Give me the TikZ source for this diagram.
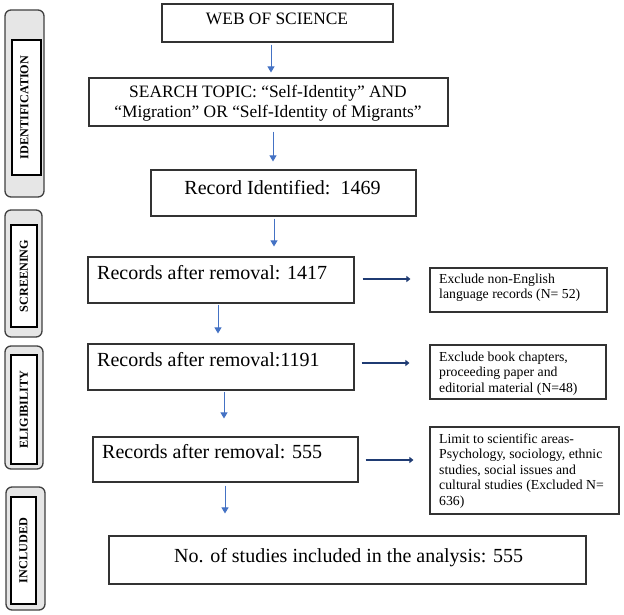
\documentclass[tikz,border=0pt]{standalone}
\usepackage{fontspec}
\setmainfont{Liberation Serif}
\usetikzlibrary{arrows.meta}
\definecolor{lblue}{HTML}{4472C4}
\definecolor{navy}{HTML}{1F3B73}
\definecolor{boxline}{HTML}{333333}
\definecolor{sidefill}{HTML}{E6E6E6}
\definecolor{sideline}{HTML}{404040}
\begin{document}
\begin{tikzpicture}[x=1pt,y=-1pt,
  box/.style={draw=boxline, line width=1.1pt, rectangle, inner sep=0pt, fill=white},
  sideout/.style={draw=sideline, line width=1.3pt, fill=sidefill, rounded corners=6pt, rectangle, inner sep=0pt},
  sidein/.style={draw=black, line width=1.1pt, fill=white, rectangle, inner sep=0pt},
  sidetext/.style={rotate=90, inner sep=0pt, font=\fontsize{12.2}{14}\selectfont\bfseries},
  bigtext/.style={inner sep=0pt, font=\fontsize{20}{23}\selectfont},
  midtext/.style={inner sep=0pt, font=\fontsize{17.4}{20}\selectfont},
  smalltext/.style={inner sep=0pt, font=\fontsize{13.75}{15.5}\selectfont},
  varrow/.style={draw=lblue, line width=1pt, -{Triangle[length=6pt,width=7pt]}},
  harrow/.style={draw=navy, line width=2.5pt, -{Triangle[length=4pt,width=6pt]}}]
\useasboundingbox (0,0) rectangle (624,615);

% side labels
\node[sideout, minimum width=39pt, minimum height=187pt] (ido) at (24.5,103.5) {};
\node[sidein, minimum width=29pt, minimum height=135pt] (idi) at (26.5,107.5) {};
\node[sidetext] (idt) at (24.5,107.5) {IDENTIFICATION};

\node[sideout, minimum width=37pt, minimum height=127pt] (sco) at (23.5,273.5) {};
\node[sidein, minimum width=26pt, minimum height=102pt] (sci) at (24,276) {};
\node[sidetext] (sct) at (24,276) {SCREENING};

\node[sideout, minimum width=38pt, minimum height=123pt] (elo) at (24,407.5) {};
\node[sidein, minimum width=26pt, minimum height=109pt] (eli) at (24,409.5) {};
\node[sidetext] (elt) at (24,409.5) {ELIGIBILITY};

\node[sideout, minimum width=39pt, minimum height=123pt] (ino) at (25.5,548.5) {};
\node[sidein, minimum width=25pt, minimum height=107pt] (ini) at (23.5,550.5) {};
\node[sidetext] (int) at (23.5,550.5) {INCLUDED};

% main boxes
\node[box, minimum width=231pt, minimum height=38pt] (web) at (277.5,23) {};
\node[box, minimum width=359pt, minimum height=48pt] (search) at (268.5,102) {};
\node[box, minimum width=265pt, minimum height=46pt] (rec) at (283.5,193) {};
\node[box, minimum width=266pt, minimum height=46pt] (r1) at (221,280) {};
\node[box, minimum width=266pt, minimum height=46pt] (r2) at (221,367) {};
\node[box, minimum width=265pt, minimum height=45pt] (r3) at (225.5,459.5) {};
\node[box, minimum width=477pt, minimum height=48pt] (fin) at (347.5,560) {};
\node[box, minimum width=177pt, minimum height=44pt] (e1) at (518.5,290) {};
\node[box, minimum width=176pt, minimum height=54pt] (e2) at (518,372) {};
\node[box, minimum width=189pt, minimum height=87pt] (e3) at (524.5,470.5) {};

% texts
\node[midtext, anchor=base] (webt) at (277,25) {WEB OF SCIENCE};
\node[midtext, anchor=base] (searcht) at (268,98) {\begin{tabular}[t]{@{}c@{}}SEARCH TOPIC: “Self-Identity” AND\\“Migration” OR “Self-Identity of Migrants”\end{tabular}};
\node[bigtext, anchor=base] (rect) at (282.5,194) {Record Identified:\ \ 1469};
\node[bigtext, anchor=base west] (r1t) at (97,279) {Records after removal: 1417};
\node[bigtext, anchor=base west] (r2t) at (97,366) {Records after removal:1191};
\node[bigtext, anchor=base west] (r3t) at (102,458) {Records after removal: 555};
\node[bigtext, anchor=base west] (fint) at (174,562) {No. of studies included in the analysis: 555};
\node[smalltext, anchor=base west] (e1t) at (439,283) {\begin{tabular}[t]{@{}l@{}}Exclude non-English\\language records (N= 52)\end{tabular}};
\node[smalltext, anchor=base west] (e2t) at (439,361) {\begin{tabular}[t]{@{}l@{}}Exclude book chapters,\\proceeding paper and\\editorial material (N=48)\end{tabular}};
\node[smalltext, anchor=base west] (e3t) at (439,443) {\begin{tabular}[t]{@{}l@{}}Limit to scientific areas-\\Psychology, sociology, ethnic\\studies, social issues and\\cultural studies (Excluded N=\\636)\end{tabular}};

% vertical arrows
\draw[varrow, shorten <=2pt, shorten >=5pt] ([xshift=-6.5pt]web.south) -- ([xshift=2.5pt]search.north);
\draw[varrow, shorten <=5pt, shorten >=8pt] ([xshift=4.5pt]search.south) -- ([xshift=-10.5pt]rec.north);
\draw[varrow, shorten <=2pt, shorten >=10pt] ([xshift=-9.5pt]rec.south) -- ([xshift=53pt]r1.north);
\draw[varrow, shorten <=1pt, shorten >=10pt] ([xshift=-3pt]r1.south) -- ([xshift=-3pt]r2.north);
\draw[varrow, shorten <=1pt, shorten >=18pt] ([xshift=3pt]r2.south) -- ([xshift=-1.5pt]r3.north);
\draw[varrow, shorten <=3pt, shorten >=22pt] ([xshift=-0.5pt]r3.south) -- ([xshift=-122.5pt]fin.north);

% horizontal arrows
\draw[harrow, shorten <=8pt, shorten >=19pt] ([yshift=1pt]r1.east) -- ([yshift=11pt]e1.west);
\draw[harrow, shorten <=7pt, shorten >=20pt] ([yshift=4pt]r2.east) -- ([yshift=9pt]e2.west);
\draw[harrow, shorten <=7pt, shorten >=16pt] ([yshift=-0.5pt]r3.east) -- ([yshift=10.5pt]e3.west);
\end{tikzpicture}
\end{document}
